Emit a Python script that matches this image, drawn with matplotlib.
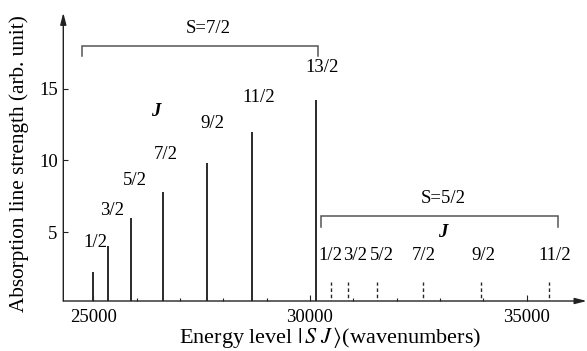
import matplotlib
matplotlib.use("Agg")
import matplotlib.pyplot as plt
from matplotlib.ticker import FixedLocator

plt.rcParams['font.family'] = ['Liberation Serif', 'DejaVu Serif']
plt.rcParams['mathtext.fontset'] = 'stix'
plt.rcParams['font.size'] = 13

# S=7/2 multiplet: energies (cm^-1) and line strengths
s72_energy = [25000, 25350, 25870, 26620, 27620, 28670, 30140]
s72_strength = [2.2, 4.0, 6.0, 7.8, 9.8, 12.0, 14.2]
s72_labels = ["1/2", "3/2", "5/2", "7/2", "9/2", "11/2", "13/2"]

# S=5/2 multiplet: energies (weak, dashed markers)
s52_energy = [30480, 30870, 31540, 32600, 33940, 35520]
s52_strength = [1.5, 1.5, 1.5, 1.5, 1.5, 1.5]
s52_labels = ["1/2", "3/2", "5/2", "7/2", "9/2", "11/2"]

x_major = [25000, 30000, 35000]
x_minor = [26000, 27000, 28000, 29000, 31000, 32000, 33000, 34000]
y_major = [5, 10, 15]

W, H = 587, 351
fig = plt.figure(figsize=(W / 100, H / 100), dpi=100)
ax = fig.add_axes([63.3 / W, 50 / H, (586.7 - 63.3) / W, (301 - 12.7) / H])
ax.set_xlim(24308, 36385)
ax.set_ylim(0.2, 20.3)

for s in ax.spines.values():
    s.set_visible(False)

axc = '#222222'
# axes with arrows
ax.annotate('', xy=(1, 0), xytext=(0, 0), xycoords='axes fraction',
            arrowprops=dict(arrowstyle='-|>,head_length=0.7,head_width=0.18',
                            color=axc, lw=1.0, shrinkA=0, shrinkB=0, mutation_scale=10))
ax.annotate('', xy=(0, 1), xytext=(0, 0), xycoords='axes fraction',
            arrowprops=dict(arrowstyle='-|>,head_length=0.7,head_width=0.18',
                            color=axc, lw=1.0, shrinkA=0, shrinkB=0, mutation_scale=10))

ax.xaxis.set_major_locator(FixedLocator(x_major))
ax.xaxis.set_minor_locator(FixedLocator(x_minor))
ax.yaxis.set_major_locator(FixedLocator(y_major))
ax.tick_params(axis='x', which='major', direction='in', length=4.5, width=0.8, color=axc, pad=6, labelsize=13.5)
ax.tick_params(axis='x', which='minor', direction='in', length=2.5, width=0.8, color=axc)
ax.tick_params(axis='y', which='major', direction='in', length=3.8, width=0.8, color=axc, pad=4, labelsize=13.5)
ax.set_xticklabels([str(v) for v in x_major])
ax.set_yticklabels([str(v) for v in y_major])

# S=7/2 lines
ax.vlines(s72_energy, 0, s72_strength, colors='#2a2a2a', lw=1.4)
# S=5/2 dashed lines
ax.vlines(s52_energy, 0, s52_strength, colors='#2a2a2a', lw=1.0,
          linestyles=(0, (2.6, 1.9)))

# labels S=7/2
s72_lab_pos = [(25039, 4.3), (25425, 6.5), (25962, 8.57), (26671, 10.4),
               (27746, 12.55), (28808, 14.4), (30271, 16.46)]
for (x, y), t in zip(s72_lab_pos, s72_labels):
    ax.text(x, y, t, ha='center', va='center', fontsize=13.5)
ax.text(26447, 13.4, 'J', ha='center', va='center', fontsize=13.5,
        fontstyle='italic', fontweight='bold')

# labels S=5/2
s52_lab_x = [30463, 31040, 31656, 32616, 34001, 35656]
for x, t in zip(s52_lab_x, s52_labels):
    ax.text(x, 3.4, t, ha='center', va='center', fontsize=13.5)
ax.text(33071, 4.95, 'J', ha='center', va='center', fontsize=13.5,
        fontstyle='italic', fontweight='bold')

# brackets
bc = '#555555'
ax.plot([24732, 24732, 30185, 30185], [17.3, 18.0, 18.0, 17.3], color=bc, lw=1.1,
        solid_joinstyle='miter')
ax.text(27647, 19.2, 'S=7/2', ha='center', va='center', fontsize=13.5)
ax.plot([30254, 30254, 35730, 35730], [5.37, 6.1, 6.1, 5.37], color=bc, lw=1.1,
        solid_joinstyle='miter')
ax.text(33077, 7.34, 'S=5/2', ha='center', va='center', fontsize=13.5)

fig.text(330 / W, 1 - 338 / H, r'Energy level $|\,S\;J\,\rangle$(wavenumbers)',
         ha='center', va='center', fontsize=16)
fig.text(19 / W, 1 - 164 / H, 'Absorption line strength (arb. unit)',
         ha='center', va='center', rotation=90, fontsize=15.3)

fig.savefig('out.png', dpi=100)
